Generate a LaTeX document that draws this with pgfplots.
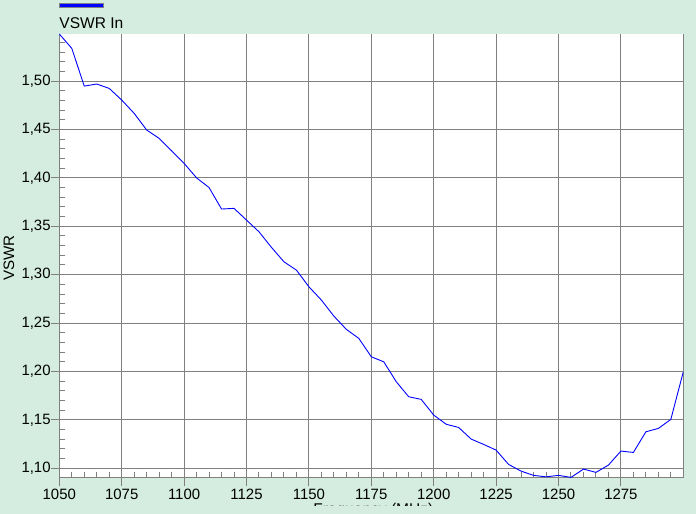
\documentclass[border=0pt]{standalone}
\usepackage{fontspec}
\setmainfont{Liberation Sans}
\usepackage{pgfplots}
\pgfplotsset{compat=1.18}

\definecolor{bgmint}{RGB}{212,237,224}
\definecolor{gridgray}{RGB}{128,128,128}

\begin{document}
\begin{tikzpicture}
\path[use as bounding box, fill=bgmint] (0,0) rectangle (696bp,514bp);
\begin{scope}
\clip (0,8.5bp) rectangle (696bp,514bp);
\begin{axis}[
    at={(59.3bp,36.3bp)}, anchor=south west,
    scale only axis, width=624bp, height=443.7bp,
    xmin=1050, xmax=1300,
    ymin=1.0903, ymax=1.5486,
    axis x line*=bottom, axis y line*=box,
    ytick pos=left,
    axis background/.style={fill=white},
    axis line style={gridgray, line width=1bp},
    xtick={1050,1075,1100,1125,1150,1175,1200,1225,1250,1275},
    ytick={1.10,1.15,1.20,1.25,1.30,1.35,1.40,1.45,1.50},
    minor xtick={1055,1060,...,1295},
    minor ytick={1.09,1.11,1.12,1.13,1.14,1.16,1.17,1.18,1.19,1.21,1.22,1.23,1.24,
                 1.26,1.27,1.28,1.29,1.31,1.32,1.33,1.34,1.36,1.37,1.38,1.39,
                 1.41,1.42,1.43,1.44,1.46,1.47,1.48,1.49,1.51,1.52,1.53,1.54},
    tick align=outside,
    major tick length=8bp,
    minor tick length=-6bp,
    tick style={gridgray, line width=1bp},
    xmajorgrids, ymajorgrids,
    major grid style={gridgray, line width=1bp},
    /pgf/number format/assume math mode=true,
    x tick label style={font=\fontsize{15}{18}\selectfont, inner ysep=3.5bp, inner xsep=0pt,
        /pgf/number format/1000 sep={}},
    y tick label style={font=\fontsize{15}{18}\selectfont, inner xsep=0.5bp,
        /pgf/number format/.cd, use comma, fixed, fixed zerofill, precision=2},
    ylabel={VSWR},
    ylabel style={at={(axis description cs:-0.0809,0.4952)}, anchor=center,
        font=\fontsize{15.2}{18}\selectfont},
    xlabel={Frequency (MHz)},
    xlabel style={at={(axis description cs:0.5,0)}, anchor=base,
        yshift=-36.8bp, xshift=2bp, font=\fontsize{15.6}{18}\selectfont},
    legend cell align=left,
    legend style={at={(axis description cs:0,1.0234)}, anchor=west,
        draw=none, fill=none, inner sep=0pt, column sep=0pt,
        nodes={inner sep=0pt, font=\fontsize{15.6}{18}\selectfont}},
    legend image code/.code={
        \draw[overlay, draw=gridgray, fill=blue, line width=1bp]
            (0.5bp,16.3bp) rectangle (44.5bp,20.3bp);},
]
\addplot[color=blue, line width=0.9bp, mark=none] coordinates {
    (1050,1.5486) (1055,1.5338) (1060,1.4948) (1065,1.4969) (1070,1.4924)
    (1075,1.4804) (1080,1.4666) (1085,1.4494) (1090,1.4408) (1095,1.4280)
    (1100,1.4150) (1105,1.4000) (1110,1.3900) (1115,1.3678) (1120,1.3685)
    (1125,1.3564) (1130,1.3443) (1135,1.3282) (1140,1.3133) (1145,1.3047)
    (1150,1.2875) (1155,1.2738) (1160,1.2572) (1165,1.2435) (1170,1.2342)
    (1175,1.2152) (1180,1.2100) (1185,1.1894) (1190,1.1739) (1195,1.1712)
    (1200,1.1550) (1205,1.1455) (1210,1.1422) (1215,1.1302) (1220,1.1247)
    (1225,1.1188) (1230,1.1040) (1235,1.0971) (1240,1.0927) (1245,1.0912)
    (1250,1.0927) (1255,1.0906) (1260,1.0992) (1265,1.0958) (1270,1.1033)
    (1275,1.1178) (1280,1.1164) (1285,1.1377) (1290,1.1412) (1295,1.1505)
    (1300,1.1997)
};
\addlegendentry{VSWR In}
\end{axis}
\end{scope}
\end{tikzpicture}
\end{document}
